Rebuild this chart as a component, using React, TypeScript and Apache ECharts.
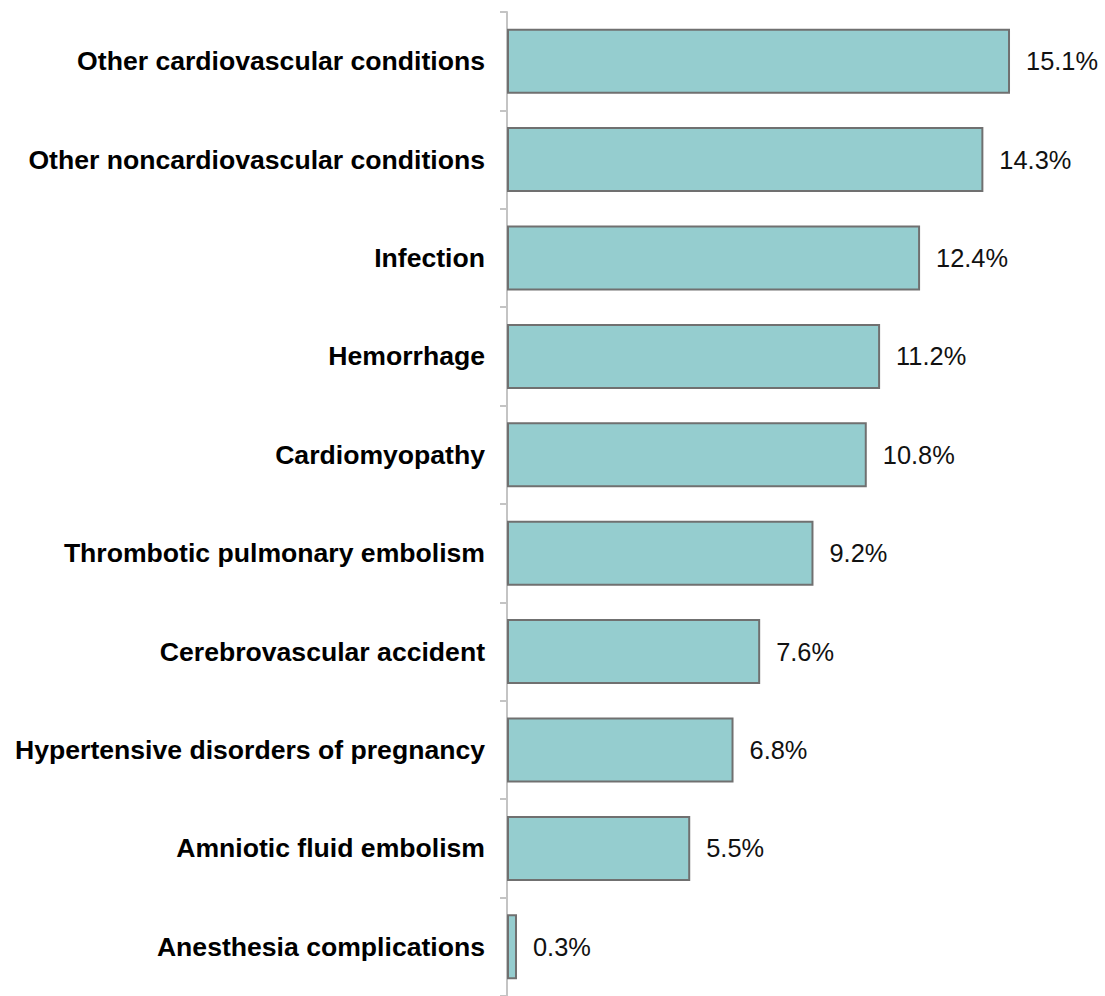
import React, { useEffect, useRef } from "react";
import * as echarts from "echarts";

const categories = [
  "Other cardiovascular conditions",
  "Other noncardiovascular conditions",
  "Infection",
  "Hemorrhage",
  "Cardiomyopathy",
  "Thrombotic pulmonary embolism",
  "Cerebrovascular accident",
  "Hypertensive disorders of pregnancy",
  "Amniotic fluid embolism",
  "Anesthesia complications",
];
const values = [15.1, 14.3, 12.4, 11.2, 10.8, 9.2, 7.6, 6.8, 5.5, 0.3];

export default function App() {
  const ref = useRef<HTMLDivElement>(null);
  useEffect(() => {
    if (!ref.current) return;
    const chart = echarts.init(ref.current, null, { renderer: "svg" });
    chart.setOption({
      animation: false,
      backgroundColor: "#ffffff",
      grid: { left: 507, right: 65, top: 12, bottom: -1, containLabel: false },
      xAxis: { type: "value", min: 0, max: 16, show: false },
      yAxis: {
        type: "category",
        data: categories,
        inverse: true,
        axisLine: { show: true, lineStyle: { color: "#c4c4c4", width: 2 } },
        axisTick: { show: true, length: 7, lineStyle: { color: "#c4c4c4", width: 2 } },
        axisLabel: {
          margin: 22,
          color: "#000000",
          fontFamily: "Liberation Sans, Arial, sans-serif",
          fontWeight: "bold",
          fontSize: 26.6,
        },
        splitLine: { show: false },
      },
      series: [
        {
          type: "bar",
          data: values,
          barWidth: 65,
          itemStyle: { color: "#95cdcf", borderColor: "#707070", borderWidth: 2 },
          label: {
            show: true,
            position: "right",
            distance: 16,
            formatter: (p: any) => p.value.toFixed(1) + "%",
            color: "#111111",
            fontFamily: "Liberation Sans, Arial, sans-serif",
            fontSize: 25.4,
          },
        },
      ],
    });
    return () => chart.dispose();
  }, []);
  return (
    <div
      ref={ref}
      style={{ position: "absolute", left: 0, top: 0, width: 1105, height: 996 }}
    />
  );
}
